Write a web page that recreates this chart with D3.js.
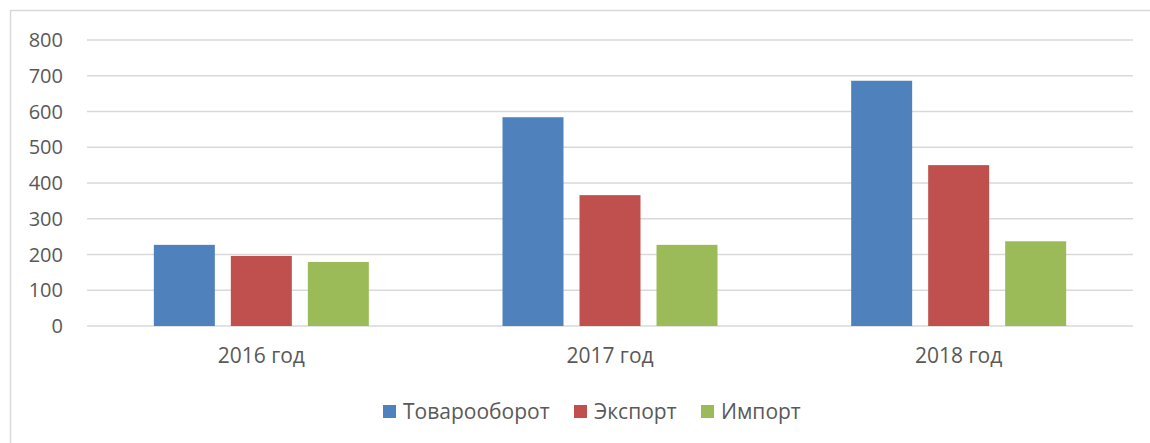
<script src="https://cdn.jsdelivr.net/npm/d3@7"></script>
<style>
  body { margin: 0; background: #fff; }
  text { font-family: "Open Sans", sans-serif; fill: #595959; }
</style>
<svg id="vis"></svg>
<script>
  // Data
  var years = ['2016 год', '2017 год', '2018 год'];
  var seriesNames = ['Товарооборот', 'Экспорт', 'Импорт'];
  var turnover = [227, 584, 686];
  var exportVals = [196, 366, 450];
  var importVals = [179, 227, 237];
  var yTicks = [0, 100, 200, 300, 400, 500, 600, 700, 800];
  var colors = ['#4F81BD', '#C0504D', '#9BBB59'];

  var seriesValues = [turnover, exportVals, importVals];

  var svg = d3.select('#vis')
    .attr('width', 1150)
    .attr('height', 443);

  // outer chart border (right/bottom edges fall outside the image)
  svg.append('rect')
    .attr('x', 10.5).attr('y', 10.5)
    .attr('width', 1160).attr('height', 460)
    .attr('fill', 'none')
    .attr('stroke', '#d9d9d9')
    .attr('stroke-width', 1.5);

  var x0 = d3.scaleBand().domain(years).range([87, 1133]).paddingInner(0).paddingOuter(0);
  var x1 = d3.scaleBand().domain(seriesNames).range([0, x0.bandwidth()]).paddingInner(0.208).paddingOuter(0.868);
  var y = d3.scaleLinear().domain([0, 800]).range([326, 40]);

  // gridlines
  svg.append('g').selectAll('line')
    .data(yTicks)
    .enter().append('line')
    .attr('x1', 87).attr('x2', 1133)
    .attr('y1', function(d) { return y(d) })
    .attr('y2', function(d) { return y(d) })
    .attr('stroke', '#d9d9d9')
    .attr('stroke-width', 1.5);

  // y axis labels
  svg.append('g').selectAll('text')
    .data(yTicks)
    .enter().append('text')
    .attr('x', 63)
    .attr('y', function(d) { return y(d) })
    .attr('dy', '0.35em')
    .attr('text-anchor', 'end')
    .style('font-size', '20px')
    .text(function(d) { return d });

  // bars
  var groups = svg.append('g').selectAll('g')
    .data(years)
    .enter().append('g')
    .attr('transform', function(d) { return 'translate(' + x0(d) + ',0)' });

  groups.selectAll('rect')
    .data(function(d, i) { return seriesNames.map(function(s, j) { return {s: s, v: seriesValues[j][i], c: colors[j]} }) })
    .enter().append('rect')
    .attr('x', function(d) { return x1(d.s) })
    .attr('width', x1.bandwidth())
    .attr('y', function(d) { return y(d.v) })
    .attr('height', function(d) { return y(0) - y(d.v) })
    .attr('fill', function(d) { return d.c });

  // category labels
  svg.append('g').selectAll('text')
    .data(years)
    .enter().append('text')
    .attr('x', function(d) { return x0(d) + x0.bandwidth() / 2 })
    .attr('y', 363)
    .attr('text-anchor', 'middle')
    .style('font-size', '21px')
    .text(function(d) { return d });

  // legend
  var legendX = [383, 574, 701];
  var legend = svg.append('g').selectAll('g')
    .data(seriesNames)
    .enter().append('g')
    .attr('transform', function(d, i) { return 'translate(' + legendX[i] + ',405)' });

  legend.append('rect')
    .attr('width', 13).attr('height', 13)
    .attr('fill', function(d, i) { return colors[i] });

  legend.append('text')
    .attr('x', 20).attr('y', 6.5)
    .attr('dy', '0.35em')
    .style('font-size', '21px')
    .text(function(d) { return d });
</script>
